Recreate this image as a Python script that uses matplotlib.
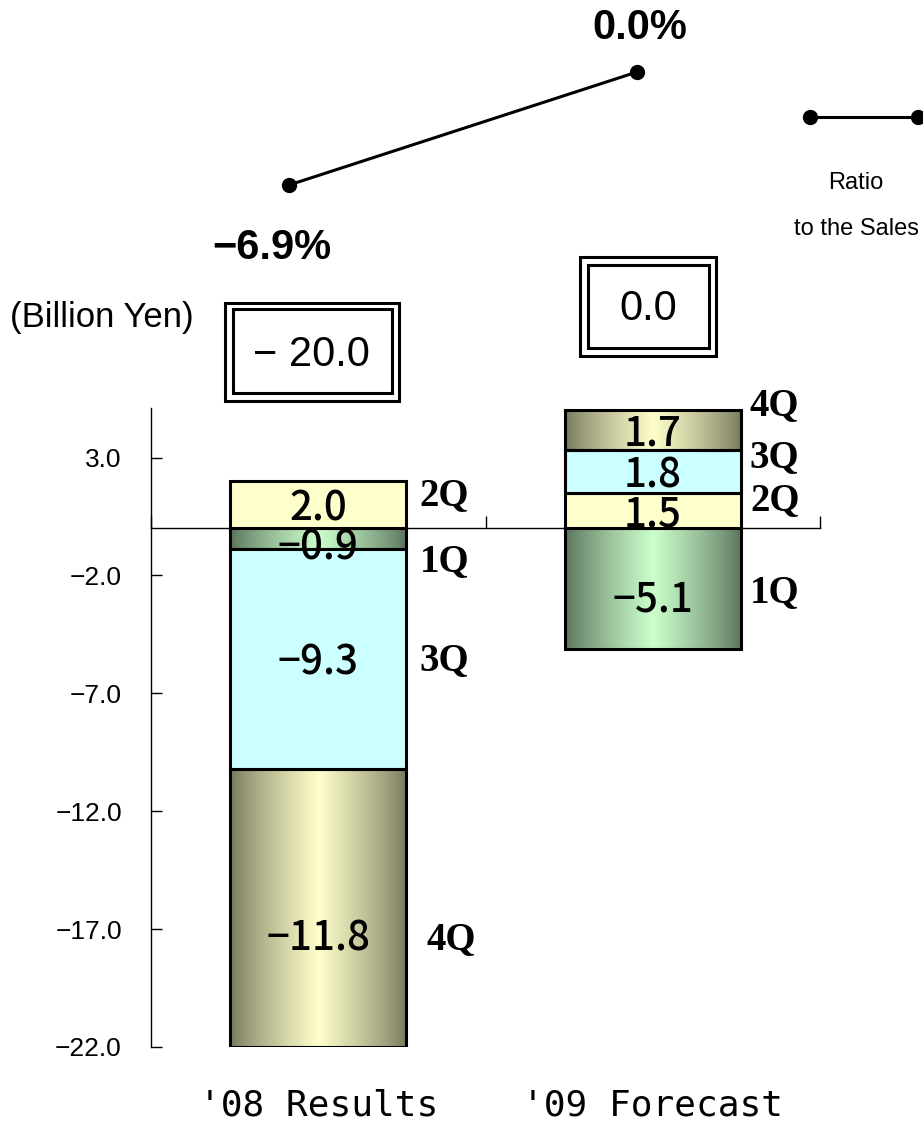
import numpy as np
import matplotlib
matplotlib.use("Agg")
import matplotlib.pyplot as plt
import matplotlib.transforms as mtransforms
from matplotlib.patches import Rectangle
from matplotlib.lines import Line2D
from matplotlib.colors import to_rgb

# ---- data -------------------------------------------------------------
categories = ["'08 Results", "'09 Forecast"]
quarters = ["1Q", "2Q", "3Q", "4Q"]
q1 = [-0.9, -5.1]
q2 = [2.0, 1.5]
q3 = [-9.3, 1.8]
q4 = [-11.8, 1.7]
totals = [-20.0, 0.0]
ratio_to_sales = [-6.9, 0.0]
y_ticks = [3.0, -2.0, -7.0, -12.0, -17.0, -22.0]

series = {"1Q": q1, "2Q": q2, "3Q": q3, "4Q": q4}

# ---- styling ------------------------------------------------------------
plt.rcParams["font.family"] = ["Liberation Sans", "DejaVu Sans"]
MONO = "DejaVu Sans Mono"
GOTHIC = ["Noto Sans CJK JP", "DejaVu Sans"]
SERIF = "Liberation Serif"

fills = {
    "1Q": ("gradient", "#58705A", "#CCFFCC"),
    "2Q": ("solid", "#FFFFCC"),
    "3Q": ("solid", "#CCFFFF"),
    "4Q": ("gradient", "#74765A", "#FFFFCC"),
}

W, H, DPI = 923, 1127, 100
fig = plt.figure(figsize=(W / DPI, H / DPI), dpi=DPI)


def fx(px):
    return px / W


def fy(py):
    return 1 - py / H


def pt(px):
    return px * 72.0 / DPI


def fmt(v, suffix=""):
    return f"{v:.1f}{suffix}".replace("-", "\u2212")


# ---- main stacked bar axes -------------------------------------------------
ax = fig.add_axes([fx(151), fy(1047), fx(820) - fx(151), fy(408) - fy(1047)])
xlim = (-0.5, 1.5)
ylim = (-22.0, 5.1)

x = np.arange(len(categories))
bar_w = 0.527
pos_base = np.zeros(len(categories))
neg_base = np.zeros(len(categories))

# vertical nudges (pixels) for value labels and quarter tags
value_base_dy = -4
value_dy = {("4Q", 0): -27, ("1Q", 0): -5, ("1Q", 1): -8}
tag_dy = [
    {"1Q": -23, "2Q": 9, "3Q": -1, "4Q": -32},
    {"1Q": -4, "2Q": 10, "3Q": 14, "4Q": 25},
]
tag_dx = [{"1Q": 13, "2Q": 13, "3Q": 13, "4Q": 20},
          {"1Q": 9, "2Q": 9, "3Q": 9, "4Q": 9}]

u = np.linspace(0, 1, 256)
t = 1 - np.abs(2 * u - 1)
t = t ** 0.8

for q in quarters:
    vals = np.array(series[q])
    bottoms = np.where(vals >= 0, pos_base, neg_base)
    style = fills[q]
    face = style[1] if style[0] == "solid" else "none"
    bars = ax.bar(x, vals, bar_w, bottom=bottoms, facecolor=face,
                  edgecolor="black", linewidth=2.2, zorder=3)
    if style[0] == "gradient":
        edge = np.array(to_rgb(style[1]))
        centre = np.array(to_rgb(style[2]))
        grad = edge[None, :] + (centre - edge)[None, :] * t[:, None]
        img = grad[None, :, :]
        for patch in bars.patches:
            x0 = patch.get_x()
            x1 = x0 + patch.get_width()
            y0 = patch.get_y()
            y1 = y0 + patch.get_height()
            ax.imshow(img, extent=[x0, x1, min(y0, y1), max(y0, y1)],
                      aspect="auto", interpolation="bilinear", zorder=2.9)
    for i, patch in enumerate(bars.patches):
        yc = patch.get_y() + patch.get_height() / 2
        xc = patch.get_x() + patch.get_width() / 2
        dy = value_base_dy + value_dy.get((q, i), 0)
        ax.annotate(fmt(vals[i]), (xc, yc), xytext=(0, pt(dy)),
                    textcoords="offset points", ha="center", va="center",
                    family=GOTHIC, fontweight=500, fontsize=29, zorder=5)
        xr = patch.get_x() + patch.get_width()
        ax.annotate(q, (xr, yc), xytext=(pt(tag_dx[i][q]), pt(tag_dy[i][q])),
                    textcoords="offset points", ha="left", va="center",
                    family=SERIF, fontweight="bold", fontsize=28,
                    annotation_clip=False, zorder=5)
    pos_base += np.where(vals >= 0, vals, 0)
    neg_base += np.where(vals < 0, vals, 0)

ax.set_xlim(*xlim)
ax.set_ylim(*ylim)
ax.set_yticks(y_ticks)
ax.set_yticklabels([fmt(v) for v in y_ticks])
ax.set_xticks([-0.5, 0.5, 1.5])
ax.tick_params(axis="x", direction="in", length=8.5, width=1, labelbottom=False)
ax.tick_params(axis="y", direction="in", length=8, width=1, labelsize=19, pad=21)
for side in ("top", "right"):
    ax.spines[side].set_visible(False)
ax.spines["bottom"].set_position(("data", 0))
ax.spines["left"].set_linewidth(1)
ax.spines["bottom"].set_linewidth(1)
ax.patch.set_visible(False)

# category names below the plot
cat_tr = mtransforms.blended_transform_factory(ax.transData, fig.transFigure)
for i, name in enumerate(categories):
    ax.text(x[i], fy(1106), name, transform=cat_tr, ha="center", va="center",
            family=MONO, fontsize=26, clip_on=False)

fig.text(fx(10), fy(318), "(Billion Yen)", ha="left", va="center", fontsize=25)

# ---- ratio-to-sales line ---------------------------------------------------
ax2 = fig.add_axes([fx(151), fy(260), fx(820) - fx(151), fy(40) - fy(260)])
ax2.set_axis_off()
ax2.patch.set_visible(False)
ax2.set_xlim(-0.3966, 1.5259)
ax2.set_ylim(-11.478, 1.954)
ax2.plot(x, ratio_to_sales, color="black", lw=2.2, marker="o", ms=10,
         clip_on=False)
ratio_offsets = [(-17, -63), (3, 44)]
for i, v in enumerate(ratio_to_sales):
    dx, dy = ratio_offsets[i]
    ax2.annotate(fmt(v, "%"), (x[i], v), xytext=(pt(dx), pt(dy)),
                 textcoords="offset points", ha="center", va="center",
                 fontsize=30, fontweight="bold", annotation_clip=False)

# legend entry for the ratio line
fig.add_artist(Line2D([fx(810), fx(918)], [fy(117), fy(117)],
                      transform=fig.transFigure, color="black", lw=2.2,
                      marker="o", ms=10))
fig.text(fx(856), fy(183), "Ratio", ha="center", va="center", fontsize=17)
fig.text(fx(856), fy(229), "to the Sales", ha="center", va="center", fontsize=17)

# ---- framed totals ---------------------------------------------------------
boxes = [
    ((224.5, 302.5, 398.5, 400.5), (232.5, 309.5, 391.5, 392.5), (311, 355)),
    ((579.5, 256.5, 715.5, 355.5), (587.5, 264.5, 708.5, 347.5), (648, 309)),
]
for (outer, inner, centre), total in zip(boxes, totals):
    for (x0, y0, x1, y1) in (outer, inner):
        fig.add_artist(Rectangle((fx(x0), fy(y1)), fx(x1) - fx(x0),
                                 fy(y0) - fy(y1), transform=fig.transFigure,
                                 fill=False, lw=2.2, ec="black"))
    label = fmt(total)
    if total < 0:
        label = "\u2212 " + fmt(abs(total))
    fig.text(fx(centre[0]), fy(centre[1]), label, ha="center", va="center",
             fontsize=30)

fig.savefig("out.png", dpi=DPI)
